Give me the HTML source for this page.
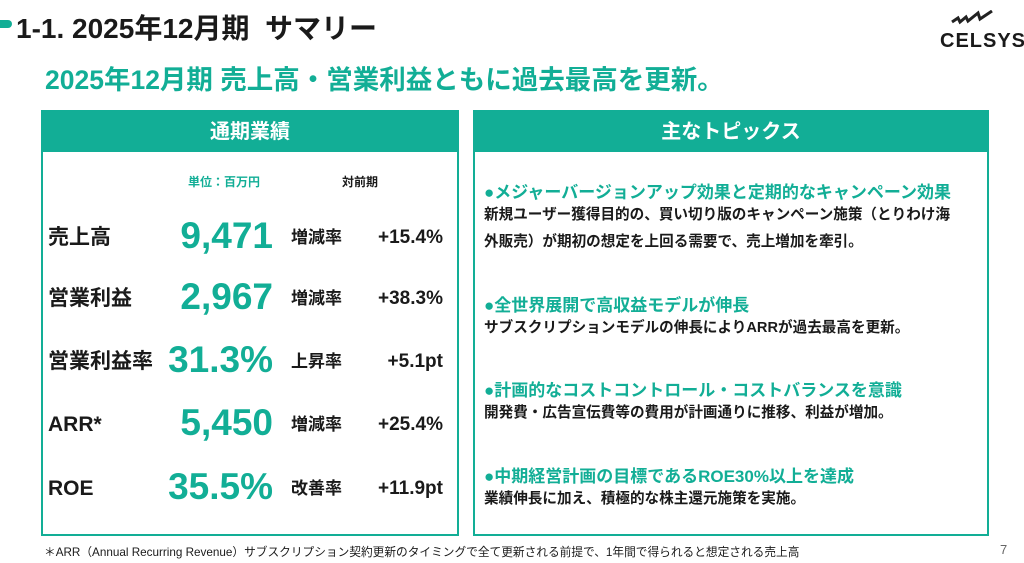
<!DOCTYPE html><html><head><meta charset="utf-8"><style>
body{margin:0;width:1024px;height:563px;background:#fff;position:relative;overflow:hidden;font-family:"Liberation Sans","Noto Sans CJK JP",sans-serif;color:#1a1a1a}
.a{position:absolute;white-space:nowrap}
.t{color:#12ae96}
.panel{position:absolute;border:2px solid #12ae96;box-sizing:border-box}
.hd{position:absolute;left:0;right:0;top:0;height:40px;background:#12ae96;color:#fff;font-size:20px;text-align:center;line-height:40px;font-weight:bold}
.r{position:absolute;height:40px;line-height:40px;white-space:nowrap}
.lab{font-size:21px;font-weight:bold}
.num{font-size:37px;font-weight:bold;color:#12ae96;text-align:right;width:150px}
.kind{font-size:17px;font-weight:bold}
.val{font-size:19px;font-weight:bold;text-align:right;width:100px}
.h2{font-size:17px;font-weight:bold;color:#12ae96}
.p{font-size:14.6px;font-weight:bold;line-height:27px}
</style></head><body>
<div class="a" style="left:0;top:20px;width:12px;height:8px;background:#12ae96;border-radius:0 4px 4px 0"></div>
<div class="a" style="left:16px;top:7px;font-size:28px;font-weight:bold">1-1. 2025年12月期&nbsp; サマリー</div>
<svg class="a" style="left:950px;top:10px" width="50" height="16"><path d="M2 12 L8 8 L10 12 L16 7 L18 11 L28 3 L30 9 L42 1" stroke="#222" stroke-width="3" fill="none"/></svg>
<div class="a" style="left:940px;top:30px;font-size:20px;font-weight:bold;letter-spacing:1px">CELSYS</div>
<div class="a t" style="left:45px;top:58px;font-size:26.5px;font-weight:bold">2025年12月期 売上高・営業利益ともに過去最高を更新。</div>

<div class="panel" style="left:41px;top:110px;width:418px;height:426px"><div class="hd">通期業績</div></div>
<div class="panel" style="left:473px;top:110px;width:516px;height:426px"><div class="hd">主なトピックス</div></div>

<div class="a t" style="left:188px;top:173px;font-size:12px;font-weight:bold">単位：百万円</div>
<div class="a" style="left:342px;top:173px;font-size:12px;font-weight:bold">対前期</div>

<div class="r lab" style="left:48px;top:218px">売上高</div><div class="r num" style="left:123px;top:216px">9,471</div><div class="r kind" style="left:291px;top:218px">増減率</div><div class="r val" style="left:343px;top:218px">+15.4%</div>
<div class="r lab" style="left:48px;top:279px">営業利益</div><div class="r num" style="left:123px;top:277px">2,967</div><div class="r kind" style="left:291px;top:279px">増減率</div><div class="r val" style="left:343px;top:279px">+38.3%</div>
<div class="r lab" style="left:48px;top:342px">営業利益率</div><div class="r num" style="left:123px;top:340px">31.3%</div><div class="r kind" style="left:291px;top:342px">上昇率</div><div class="r val" style="left:343px;top:342px">+5.1pt</div>
<div class="r lab" style="left:48px;top:405px">ARR*</div><div class="r num" style="left:123px;top:403px">5,450</div><div class="r kind" style="left:291px;top:405px">増減率</div><div class="r val" style="left:343px;top:405px">+25.4%</div>
<div class="r lab" style="left:48px;top:469px">ROE</div><div class="r num" style="left:123px;top:467px">35.5%</div><div class="r kind" style="left:291px;top:469px">改善率</div><div class="r val" style="left:343px;top:469px">+11.9pt</div>

<div class="a h2" style="left:484px;top:178px">●メジャーバージョンアップ効果と定期的なキャンペーン効果</div>
<div class="a p" style="left:484px;top:202px">新規ユーザー獲得目的の、買い切り版のキャンペーン施策（とりわけ海<br>外販売）が期初の想定を上回る需要で、売上増加を牽引。</div>
<div class="a h2" style="left:484px;top:291px">●全世界展開で高収益モデルが伸長</div>
<div class="a p" style="left:484px;top:315px">サブスクリプションモデルの伸長によりARRが過去最高を更新。</div>
<div class="a h2" style="left:484px;top:376px">●計画的なコストコントロール・コストバランスを意識</div>
<div class="a p" style="left:484px;top:400px">開発費・広告宣伝費等の費用が計画通りに推移、利益が増加。</div>
<div class="a h2" style="left:484px;top:462px">●中期経営計画の目標であるROE30%以上を達成</div>
<div class="a p" style="left:484px;top:486px">業績伸長に加え、積極的な株主還元施策を実施。</div>

<div class="a" style="left:44px;top:543px;font-size:11.7px">＊ARR（Annual Recurring Revenue）サブスクリプション契約更新のタイミングで全て更新される前提で、1年間で得られると想定される売上高</div>
<div class="a" style="left:1000px;top:542px;font-size:13px;color:#666">7</div>
</body></html>
